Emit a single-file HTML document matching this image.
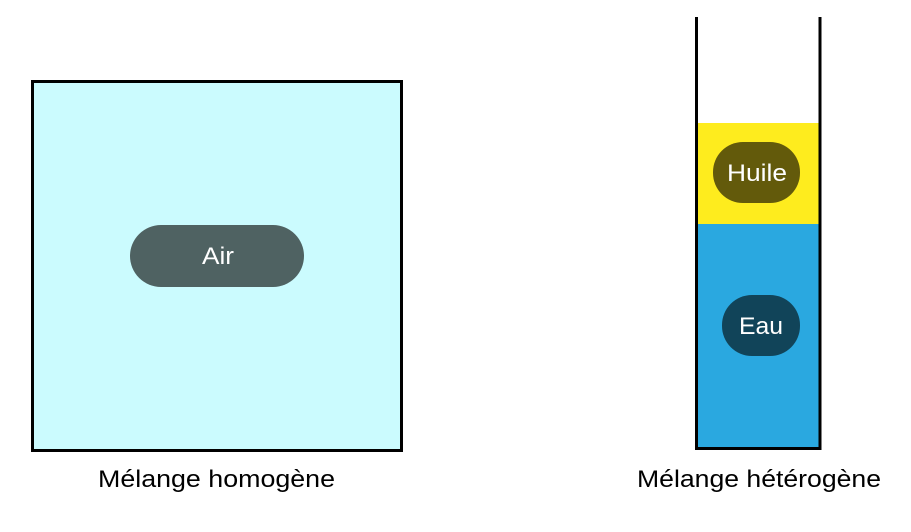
<!DOCTYPE html>
<html><head><meta charset="utf-8"><style>
body{margin:0;background:#fff;width:911px;height:527px;overflow:hidden}
</style></head><body>
<svg width="911" height="527" xmlns="http://www.w3.org/2000/svg" font-family="Liberation Sans, sans-serif">
<rect x="32.5" y="81.5" width="369" height="369" fill="#cbfbfe" stroke="#000" stroke-width="3"/>
<rect x="130" y="225" width="174" height="62" rx="31" fill="#4f6262"/>
<text x="202" y="264" font-size="24" fill="#fff" textLength="32" lengthAdjust="spacingAndGlyphs">Air</text>
<rect x="698" y="123" width="121" height="101" fill="#feec1e"/>
<rect x="698" y="224" width="121" height="224" fill="#2aa8e0"/>
<path d="M696.5 17 V448.5 H820 V17" fill="none" stroke="#000" stroke-width="3"/>
<rect x="713" y="142" width="87" height="61" rx="30" fill="#635a0b"/>
<text x="727" y="181" font-size="24" fill="#fff" textLength="60" lengthAdjust="spacingAndGlyphs">Huile</text>
<rect x="722" y="295" width="78" height="61" rx="30" fill="#114459"/>
<text x="739" y="334" font-size="24" fill="#fff" textLength="44" lengthAdjust="spacingAndGlyphs">Eau</text>
<text x="98" y="487" font-size="24" fill="#000" textLength="237" lengthAdjust="spacingAndGlyphs">Mélange homogène</text>
<text x="637" y="487" font-size="24" fill="#000" textLength="244" lengthAdjust="spacingAndGlyphs">Mélange hétérogène</text>
</svg>
</body></html>
